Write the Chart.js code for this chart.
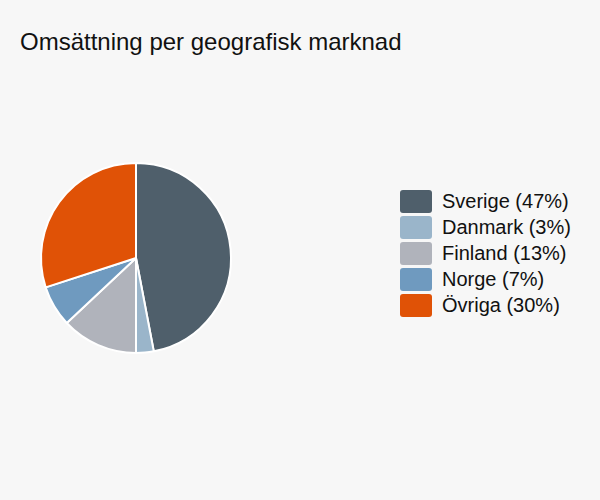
<!DOCTYPE html>
<html>
<head>
<meta charset="utf-8">
<script src="https://cdn.jsdelivr.net/npm/chart.js@4"></script>
<style>
  body { margin: 0; background: #f7f7f7; font-family: "Liberation Sans", Arial, sans-serif; }
  #wrap { position: relative; width: 600px; height: 500px; background: #f7f7f7; }
  #title { position: absolute; left: 20px; top: 28px; font-size: 24px; color: #111; }
  #pie-box { position: absolute; left: 36px; top: 158px; width: 200px; height: 200px; }
  #legend { position: absolute; left: 400px; top: 188px; }
  .row { height: 26px; display: flex; align-items: center; }
  .box { width: 32px; height: 23px; border-radius: 3px; margin-right: 10px; }
  .lbl { font-size: 20px; color: #111; }
</style>
</head>
<body>
<div id="wrap">
  <div id="title">Omsättning per geografisk marknad</div>
  <div id="pie-box"><canvas id="myChart" width="200" height="200"></canvas></div>
  <div id="legend"></div>
</div>
<script>
var markets = ['Sverige', 'Danmark', 'Finland', 'Norge', 'Övriga'];
var shares = [47, 3, 13, 7, 30];
var colors = ['#4f5f6b', '#9ab5ca', '#b0b3bb', '#6f9abf', '#e05206'];

// legend rows
var legend = document.getElementById('legend');
for (var i = 0; i < markets.length; i++) {
  var row = document.createElement('div');
  row.className = 'row';
  row.innerHTML = '<div class="box" style="background:' + colors[i] + '"></div>' +
    '<span class="lbl">' + markets[i] + ' (' + shares[i] + '%)</span>';
  legend.appendChild(row);
}

new Chart(document.getElementById('myChart'), {
  type: 'pie',
  data: {
    labels: markets,
    datasets: [{
      data: shares,
      backgroundColor: colors,
      borderColor: '#ffffff',
      borderWidth: 2
    }]
  },
  options: {
    responsive: false,
    animation: false,
    layout: { padding: 4 },
    plugins: {
      legend: { display: false },
      tooltip: { enabled: false }
    }
  }
});
</script>
</body>
</html>
